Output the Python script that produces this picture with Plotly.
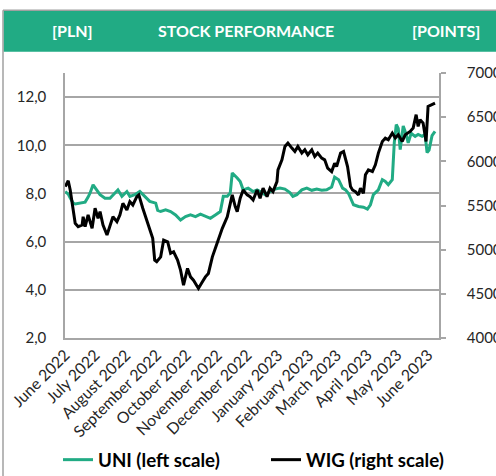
import pandas as pd
import plotly.graph_objects as go

# ---------------- data ----------------
start_date = "2022-06-01"

month_ticks = ["2022-06-01", "2022-07-01", "2022-08-01", "2022-09-01", "2022-10-01",
               "2022-11-01", "2022-12-01", "2023-01-01", "2023-02-01", "2023-03-01",
               "2023-04-01", "2023-05-01", "2023-06-01"]
month_labels = ["June 2022", "July 2022", "August 2022", "September 2022", "October 2022",
                "November 2022", "December 2022", "January 2023", "February 2023",
                "March 2023", "April 2023", "May 2023", "June 2023"]

left_ticks = [2, 4, 6, 8, 10, 12]
right_ticks = [40000, 45000, 50000, 55000, 60000, 65000, 70000]

# UNI share price [PLN] -- days since start_date
uni_days = [0, 3, 5, 8, 10, 15, 20, 23, 25, 28, 32, 35, 40, 45, 50, 53, 57, 62, 65, 70,
            75, 80, 85, 91, 93, 96, 101, 106, 111, 116, 121, 126, 131, 136, 141, 146, 151,
            156, 159, 163, 166, 168, 173, 176, 179, 184, 189, 193, 196, 201, 206, 211, 216,
            221, 226, 229, 233, 238, 243, 248, 253, 258, 263, 268, 271, 275, 279, 282, 285,
            287, 290, 295, 300, 304, 307, 310, 315, 319, 322, 325, 329, 331, 333, 335, 337,
            340, 343, 345, 348, 352, 355, 359, 362, 364, 366, 369, 372]
uni_values = [8.08, 7.97, 7.81, 7.6, 7.56, 7.6, 7.64, 7.85, 8.02, 8.36, 8.15, 7.95, 7.8, 7.8,
              8.02, 8.15, 7.88, 8.08, 7.88, 7.95, 8.08, 7.88, 7.67, 7.6, 7.3, 7.25, 7.32, 7.25,
              7.11, 6.9, 7.04, 7.11, 7.04, 7.14, 7.04, 6.97, 7.11, 7.25, 7.88, 7.88, 8.02, 8.85,
              8.64, 8.5, 8.15, 8.22, 8.08, 8.15, 8.08, 7.95, 8.08, 8.18, 8.22, 8.18, 8.04, 7.88,
              7.95, 8.15, 8.22, 8.13, 8.18, 8.13, 8.15, 8.27, 8.68, 8.57, 8.22, 8.15, 8.0, 7.8,
              7.53, 7.46, 7.43, 7.35, 7.53, 7.95, 8.15, 8.57, 8.5, 8.36, 8.57, 10.1, 10.86, 10.7,
              9.82, 10.8, 10.45, 10.1, 10.5, 10.37, 10.45, 10.37, 10.45, 9.7, 9.8, 10.4, 10.58]

# WIG index [points] -- days since start_date
wig_days = [0, 2, 3, 5, 8, 10, 13, 17, 18, 20, 23, 27, 30, 33, 35, 38, 42, 45, 48, 52,
            55, 58, 62, 65, 68, 72, 74, 78, 82, 85, 88, 90, 92, 96, 99, 103, 106, 109, 113, 116,
            119, 123, 126, 129, 134, 138, 141, 144, 148, 151, 154, 158, 163, 166, 168, 171, 173,
            176, 179, 183, 186, 189, 193, 196, 199, 203, 206, 209, 213, 214, 218, 221, 224, 228,
            231, 234, 238, 241, 244, 248, 251, 254, 258, 261, 264, 268, 271, 273, 277, 280, 284,
            287, 289, 292, 295, 297, 300, 302, 305, 309, 312, 315, 319, 322, 325, 329, 332, 335,
            339, 342, 347, 350, 353, 355, 357, 360, 363, 365, 369, 372]
wig_values = [57140, 57520, 57800, 56760, 54690, 52980, 52600, 52790, 53730, 52600,
              53930, 52420, 54690, 53550, 54300, 52790, 51660, 52600, 53730, 53170,
              53930, 55250, 54490, 55440, 55060, 56000, 56200, 54690, 53360, 52420,
              51280, 48800, 48630, 49190, 51090, 50900, 49580, 49760, 48820, 47680,
              45980, 47880, 46920, 46550, 45610, 46360, 46920, 47310, 49190, 50150,
              51090, 52420, 53730, 55250, 56200, 54870, 54300, 55820, 56760, 56200,
              56000, 55630, 56760, 55820, 56960, 56000, 56960, 56570, 57710, 59030,
              60170, 61680, 62060, 61500, 61110, 61680, 60930, 61300, 60740, 61300,
              60540, 60930, 60360, 60170, 59230, 58840, 59790, 59410, 60930, 61110,
              59410, 57140, 56760, 56570, 56200, 56960, 56390, 58470, 59030, 58840,
              59600, 60930, 62250, 62630, 62440, 63200, 62630, 63000, 62250, 63000,
              63380, 63760, 65280, 63950, 64710, 64330, 62250, 66220, 66410, 66600]

# ---------------- styling ----------------
GREEN = "#21ab84"
GRID = "#a6a6a6"
FONT = "Lato"

start = pd.Timestamp(start_date)
uni_dates = start + pd.to_timedelta(uni_days, unit="D")
wig_dates = start + pd.to_timedelta(wig_days, unit="D")

fig = go.Figure()
fig.add_trace(go.Scatter(x=uni_dates, y=uni_values, name="UNI (left scale)", mode="lines",
                         line=dict(color=GREEN, width=3), yaxis="y", legend="legend"))
fig.add_trace(go.Scatter(x=wig_dates, y=wig_values, name="WIG (right scale)", mode="lines",
                         line=dict(color="black", width=3), yaxis="y2", legend="legend2"))

W, H = 496, 476
L, R, T, B = 65, 57, 73, 138
pw, ph = W - L - R, H - T - B


def px(x):
    return (x - L) / pw


def py(y):
    return (H - B - y) / ph


legend_font = dict(size=18.7, family=FONT, color="black", weight="bold")

fig.update_layout(
    width=W, height=H,
    margin=dict(l=L, r=R, t=T, b=B, autoexpand=False),
    paper_bgcolor="white", plot_bgcolor="white",
    separators=", ",
    font=dict(family=FONT, size=14, color="#262626"),
    showlegend=True,
    xaxis=dict(type="date", range=["2022-05-31 18:00", "2023-06-12"],
               tickvals=month_ticks, ticktext=month_labels, tickangle=-45,
               showgrid=False, showline=True, linecolor=GRID, linewidth=1.5,
               ticks="", tickfont=dict(size=15.8, family=FONT, color="#262626"),
               zeroline=False, automargin=False),
    yaxis=dict(range=[2, 13], tickvals=left_ticks, tickformat=".1f",
               showgrid=True, gridcolor=GRID, gridwidth=1.5,
               showline=True, linecolor=GRID, linewidth=1.5, ticks="",
               ticklabelstandoff=14, zeroline=False, automargin=False,
               tickfont=dict(size=15, family=FONT, color="#262626")),
    yaxis2=dict(overlaying="y", side="right", range=[40000, 70000], tickvals=right_ticks,
                tickformat="d", showgrid=False, showline=True, linecolor=GRID, linewidth=1.5,
                ticks="outside", ticklen=5, tickcolor=GRID, tickwidth=1.5,
                ticklabelstandoff=18, zeroline=False, automargin=False,
                tickfont=dict(size=15, family=FONT, color="#262626")),
    legend=dict(orientation="h", x=58 / W, y=1 - 460 / H, xref="container", yref="container",
                xanchor="left", yanchor="middle", font=legend_font, bgcolor="rgba(0,0,0,0)"),
    legend2=dict(orientation="h", x=266 / W, y=1 - 460 / H, xref="container", yref="container",
                 xanchor="left", yanchor="middle", font=legend_font, bgcolor="rgba(0,0,0,0)"),
    shapes=[
        dict(type="rect", xref="paper", yref="paper", x0=px(3.5), x1=px(497), y0=py(51.7), y1=py(11),
             fillcolor=GREEN, line=dict(width=0), layer="above"),
        dict(type="line", xref="paper", yref="paper", x0=px(3), x1=px(497), y0=py(10.3), y1=py(10.3),
             line=dict(color="#a0a0a0", width=1.5)),
        dict(type="line", xref="paper", yref="paper", x0=px(3), x1=px(3), y0=py(10.3), y1=py(477),
             line=dict(color="#a0a0a0", width=1.5)),
    ],
    annotations=[
        dict(text="[PLN]", x=px(72), y=py(30), xref="paper", yref="paper", showarrow=False,
             xanchor="center", yanchor="middle",
             font=dict(size=16, family=FONT, color="white", weight="bold")),
        dict(text="STOCK PERFORMANCE", x=px(246), y=py(30), xref="paper", yref="paper",
             showarrow=False, xanchor="center", yanchor="middle",
             font=dict(size=16, family=FONT, color="white", weight="bold")),
        dict(text="[POINTS]", x=px(446), y=py(30), xref="paper", yref="paper", showarrow=False,
             xanchor="center", yanchor="middle",
             font=dict(size=16, family=FONT, color="white", weight="bold")),
    ],
)

fig.write_html("out.html", config={"displayModeBar": False},
               post_script="document.body.style.margin='0';document.body.style.overflow='hidden';")
